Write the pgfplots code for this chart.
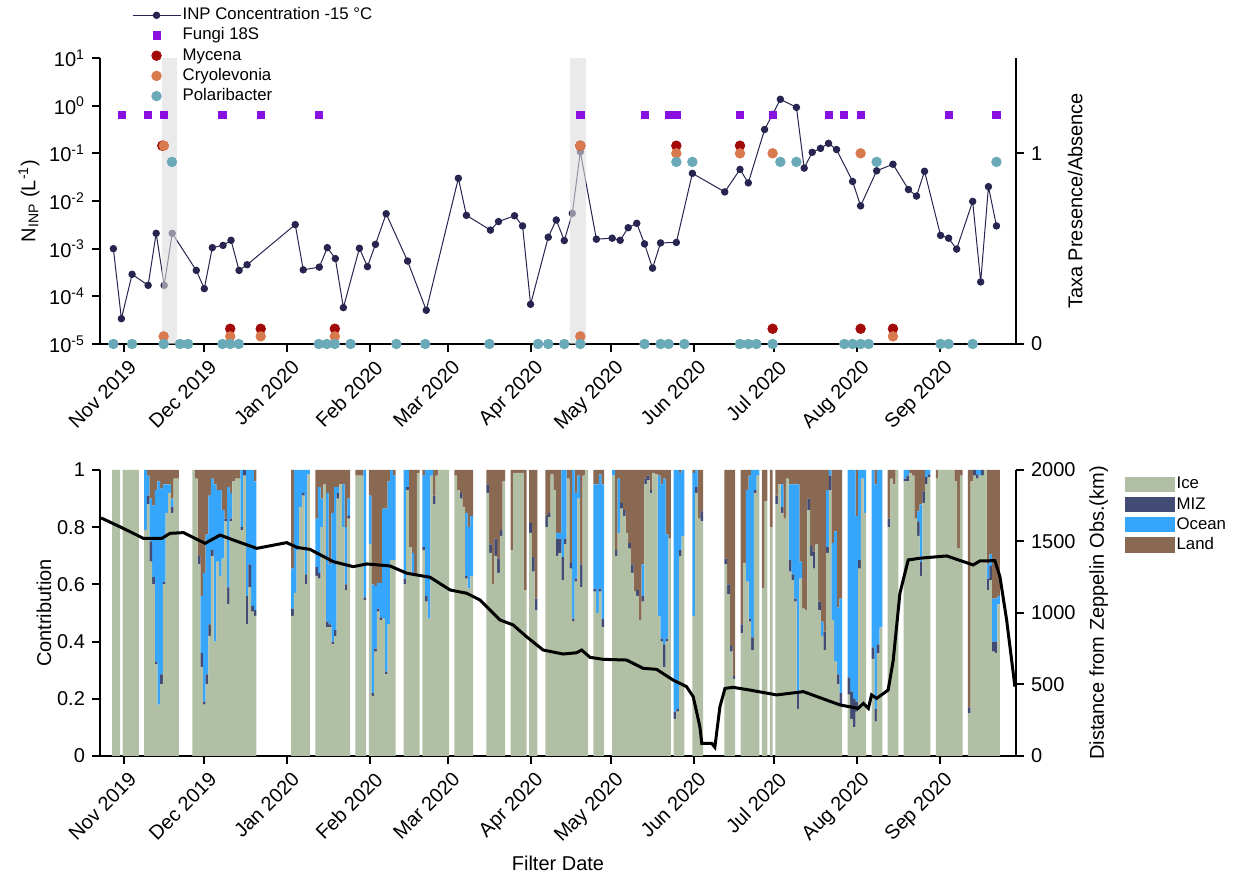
\documentclass[border=0pt]{standalone}
\usepackage{fontspec}
\setmainfont{Liberation Sans}
\usepackage{pgfplots}
\pgfplotsset{compat=1.18}
\usepackage{pgfplotstable}

\definecolor{inp}{HTML}{27244F}
\definecolor{fungi}{HTML}{8A10E0}
\definecolor{mycena}{HTML}{A20A0A}
\definecolor{cryo}{HTML}{D9794E}
\definecolor{polar}{HTML}{6AA9B7}
\definecolor{iceC}{HTML}{B1C0A5}
\definecolor{mizC}{HTML}{414B73}
\definecolor{oceC}{HTML}{35A6FB}
\definecolor{landC}{HTML}{8A6952}
\definecolor{band}{HTML}{DCDCDC}

\newcommand\ftick{\fontsize{10}{12}\selectfont}
\newcommand\flab{\fontsize{10}{12}\selectfont}
\newcommand\fleg{\fontsize{8.4}{10}\selectfont}

% INP concentration at -15 C, day 0 = 1 Nov 2019
\pgfplotstableread{
d v
-4 1.0e-3
-1 3.4e-5
3 2.9e-4
9 1.7e-4
12 2.1e-3
15 1.7e-4
18 2.1e-3
27 3.5e-4
30 1.45e-4
33 1.05e-3
37 1.17e-3
40 1.5e-3
43 3.5e-4
46 4.6e-4
64 3.2e-3
67 3.6e-4
73 4.1e-4
76 1.05e-3
79 6.2e-4
82 5.8e-5
88 1.02e-3
91 4.2e-4
94 1.23e-3
98 5.4e-3
106 5.5e-4
113 5.1e-5
125 3.0e-2
128 5.0e-3
137 2.45e-3
140 3.7e-3
146 4.9e-3
149 3.0e-3
152 6.8e-5
158.6 1.74e-3
161.6 4.0e-3
164.6 1.48e-3
167.6 5.5e-3
170.6 0.108
176.6 1.58e-3
182.5 1.66e-3
185.5 1.5e-3
188.5 2.75e-3
191.7 3.4e-3
194.6 1.26e-3
197.6 3.9e-4
200.6 1.32e-3
206.5 1.35e-3
212.5 3.8e-2
224.6 1.55e-2
230.3 4.6e-2
233.4 2.4e-2
239.5 0.316
242.5 0.66
245.4 1.36
251.4 0.92
254.3 4.9e-2
257.3 0.105
260.4 0.127
263.4 0.162
266.4 0.12
272.4 2.57e-2
275.4 7.9e-3
281.4 4.3e-2
287.5 5.9e-2
293.3 1.74e-2
296.3 1.27e-2
299.3 4.2e-2
305.3 1.9e-3
308.3 1.66e-3
311.3 9.8e-4
317.3 9.8e-3
320.3 2.0e-4
323.2 2.0e-2
326.2 3.0e-3
}\inptab

% air mass contribution per day
\pgfplotstableread{
d ice miz oce land
-4 1 0 0 0
-3 1 0 0 0
-2 1 0 0 0
0 1 0 0 0
1 1 0 0 0
2 1 0 0 0
3 1 0 0 0
4 1 0 0 0
5 1 0 0 0
8 0.79 0 0.21 0
9 0.88 0.03 0.07 0.02
10 0.68 0.07 0.15 0.10
11 0.60 0.025 0.25 0.125
12 0.32 0.01 0.60 0.07
13 0.18 0 0.78 0.04
14 0.25 0.035 0.65 0.065
15 0.60 0.01 0.34 0.05
16 0.85 0 0.10 0.05
17 0.92 0 0.03 0.05
18 0.85 0.02 0.03 0.10
19 0.97 0 0 0.03
20 0.97 0 0 0.03
26 1 0 0 0
27 0.97 0 0 0.03
28 0.67 0.03 0 0.30
29 0.31 0.05 0.20 0.44
30 0.18 0.01 0.45 0.36
31 0.25 0.035 0.49 0.225
32 0.42 0.04 0.45 0.09
33 0.70 0.02 0.25 0.03
34 0.40 0 0.55 0.05
35 0.68 0 0.25 0.07
36 0.63 0 0.30 0.07
37 0.69 0 0.17 0.14
38 0.82 0.01 0 0.17
39 0.53 0.06 0.35 0.06
40 0.82 0.01 0.09 0.08
41 0.96 0 0 0.04
42 0.97 0 0 0.03
43 0.97 0 0 0.03
44 0.79 0.01 0.20 0
45 0.98 0.02 0 0
46 0.46 0.10 0.44 0
47 0.59 0.08 0.33 0
48 0.505 0.02 0.475 0
49 0.49 0.02 0.45 0.04
63 0.49 0.025 0.14 0.345
64 0.57 0 0.43 0
65 0.72 0 0.28 0
66 0.87 0 0.13 0
67 0.91 0.01 0.08 0
68 0.60 0.035 0.365 0
69 0.985 0 0.015 0
72 0.63 0.03 0.17 0.17
73 0.62 0.02 0.30 0.06
74 0.80 0 0.10 0.10
75 0.95 0 0 0.05
76 0.45 0.02 0.45 0.08
77 0.45 0.01 0.21 0.33
78 0.39 0.01 0.45 0.15
79 0.42 0.02 0.50 0.06
80 0.90 0.02 0.02 0.06
81 0.95 0 0 0.05
82 0.80 0 0.15 0.05
83 0.58 0.02 0.20 0.20
84 0.83 0.01 0.06 0.10
87 0.98 0 0 0.02
88 0.98 0 0 0.02
89 0.98 0 0 0.02
90 0.545 0.01 0.445 0
92 0.74 0 0.17 0.09
93 0.21 0.01 0.38 0.40
94 0.365 0.01 0.22 0.405
95 0.505 0.01 0.09 0.395
96 0.475 0.01 0.12 0.395
97 0.48 0 0.385 0.135
98 0.285 0.01 0.57 0.135
99 0.46 0 0.50 0.04
100 0.685 0 0.315 0
101 0.685 0 0.295 0.02
105 0.60 0.02 0.38 0
106 0.93 0.01 0.06 0
107 0.73 0 0 0.27
108 0.63 0 0.08 0.29
109 0.63 0 0 0.37
110 0.99 0 0 0.01
112 0.72 0.01 0.25 0.02
113 0.54 0.02 0.44 0
114 0.48 0 0.52 0
115 0.98 0 0.02 0
116 0.88 0.03 0 0.09
117 0.98 0 0 0.02
118 1 0 0 0
119 1 0 0 0
120 1 0 0 0
121 1 0 0 0
124 0.98 0 0 0.02
125 0.93 0 0 0.07
126 0.90 0.02 0 0.08
127 0.87 0 0 0.13
128 0.62 0.01 0.22 0.15
129 0.585 0 0.215 0.20
130 0.63 0 0.21 0.16
136 0.92 0.03 0 0.05
137 0.71 0.03 0 0.26
138 0.60 0 0 0.40
139 0.70 0.06 0 0.24
140 0.64 0.05 0 0.31
141 0.77 0.02 0 0.21
142 0.96 0 0 0.04
145 0.72 0 0 0.28
146 0.99 0 0 0.01
147 0.99 0 0 0.01
148 0.99 0 0 0.01
149 0.99 0 0 0.01
150 0.58 0 0 0.42
152 0.78 0.035 0 0.185
153 0.645 0.05 0 0.305
154 0.51 0.04 0 0.45
158 0.80 0.04 0 0.16
159 0.835 0.015 0 0.15
160 0.985 0 0 0.015
161 0.93 0 0 0.07
162 0.70 0.06 0.02 0.22
163 0.71 0.05 0.02 0.22
164 0.615 0.08 0.305 0
165 0.74 0.02 0.24 0
166 0.97 0 0 0.03
167 0.655 0.02 0 0.325
168 0.47 0.01 0.52 0
169 0.61 0.01 0.30 0.08
170 0.90 0 0.08 0.02
171 0.59 0.08 0 0.33
172 0.98 0 0 0.02
173 1 0 0 0
176 0.575 0.01 0.365 0.05
177 0.50 0 0.45 0.05
178 0.575 0.01 0.40 0.015
179 0.45 0.03 0.47 0.05
183 0.98 0 0.02 0
184 0.70 0.02 0 0.28
185 0.78 0 0.19 0.03
186 0.865 0.02 0 0.115
187 0.84 0.02 0 0.14
188 0.78 0 0 0.22
189 0.725 0.02 0 0.255
190 0.64 0.03 0 0.33
191 0.575 0 0 0.425
192 0.56 0.02 0 0.42
193 0.475 0 0 0.525
194 0.54 0.02 0.11 0.33
195 0.95 0.02 0 0.03
196 0.965 0.015 0 0.02
197 0.92 0.01 0 0.07
198 0.99 0 0 0.01
199 0.985 0 0 0.015
200 0.49 0 0.49 0.02
201 0.40 0.01 0.54 0.05
202 0.31 0.08 0.58 0.03
203 0.40 0.01 0.365 0.225
204 0.76 0 0 0.24
206 0.13 0.025 0.845 0
207 0.155 0.01 0.835 0
208 0.70 0.02 0.27 0.01
209 0.77 0 0.23 0
213 0.49 0 0.50 0.01
214 0.92 0.02 0.06 0
215 0.83 0 0 0.17
216 0.82 0.035 0 0.145
225 0.67 0.02 0 0.31
226 0.565 0.035 0 0.40
227 0.365 0.02 0 0.615
228 0.27 0.01 0 0.72
231 0.43 0.03 0 0.54
232 0.675 0 0 0.325
233 0.61 0 0.32 0.07
234 0.47 0.01 0.50 0.02
235 0.37 0.045 0.585 0
236 0.92 0.01 0.07 0
237 0.98 0 0.02 0
239 0.585 0 0 0.415
240 0.89 0 0 0.11
242 0.80 0 0 0.20
244 0.88 0.03 0 0.09
245 0.95 0 0 0.05
246 0.85 0.02 0.08 0.05
247 0.83 0 0 0.17
248 0.97 0 0 0.03
249 0.645 0.04 0.265 0.05
250 0.615 0.02 0.315 0.05
251 0.54 0.01 0.40 0.05
252 0.165 0.06 0.725 0.05
253 0.62 0 0.06 0.32
254 0.515 0 0 0.485
255 0.51 0 0 0.49
256 0.86 0.04 0 0.10
257 0.70 0.035 0 0.265
258 0.655 0.06 0 0.285
259 0.74 0 0 0.26
260 0.51 0.03 0 0.46
261 0.42 0 0.05 0.53
262 0.37 0.065 0 0.565
263 0.71 0.02 0.20 0.07
264 0.93 0.05 0.02 0
265 0.475 0 0.27 0.255
266 0.33 0 0.455 0.215
267 0.25 0.035 0.235 0.48
268 0.175 0.045 0.33 0.45
271 0.215 0.06 0.725 0
272 0.13 0.095 0.775 0
273 0.10 0.10 0.80 0
274 0.155 0.035 0.65 0.16
275 0.655 0.03 0.315 0
276 0.97 0 0.03 0
277 0.85 0 0.15 0
280 0.34 0.04 0.62 0
281 0.12 0.045 0.785 0.05
282 0.36 0.03 0.61 0
283 0.45 0 0.55 0
286 0.80 0.03 0 0.17
287 0.97 0 0 0.03
288 0.95 0 0 0.05
289 1 0 0 0
292 0.96 0.01 0.03 0
293 0.96 0.02 0.02 0
294 0.99 0 0 0.01
295 0.98 0 0 0.02
296 0.83 0 0 0.17
297 0.77 0.05 0.035 0.145
298 0.63 0.05 0.20 0.12
299 0.885 0.04 0 0.075
300 0.95 0.025 0.025 0
301 0.975 0.01 0.015 0
304 0.97 0 0 0.03
305 1 0 0 0
306 1 0 0 0
307 1 0 0 0
308 1 0 0 0
309 1 0 0 0
310 1 0 0 0
311 0.96 0 0 0.04
312 0.725 0 0 0.275
313 0.98 0 0 0.02
316 0.15 0.02 0 0.83
317 0.96 0 0 0.04
318 0.98 0.02 0 0
319 0.97 0.015 0.015 0
320 0.98 0 0.02 0
321 0.98 0.02 0 0
322 1 0 0 0
323 0.58 0.04 0.05 0.33
324 0.615 0.05 0.04 0.295
325 0.365 0.035 0.15 0.45
326 0.36 0.04 0.15 0.45
327 0.53 0 0.03 0.44
}\bartab

% distance from Zeppelin observatory (km)
\pgfplotstableread{
d km
-8.6 1665
-0.3 1592
7.2 1522
14.1 1522
17.2 1557
22.2 1562
30.3 1487
35.9 1545
40.9 1510
49.6 1452
60.8 1492
64.6 1459
69.5 1445
78.2 1359
85.7 1324
90.7 1343
99.4 1329
105.7 1278
114.4 1250
121.9 1161
128.1 1138
133.1 1091
140.6 951
145.5 916
150.5 834
156.7 741
164.2 713
169.2 722
171.1 741
174.2 690
179.2 676
187.9 671
194.1 613
199.1 606
205.3 531
210.3 485
212.8 415
215.3 205
216.0 89
219.7 89
220.9 61
222.8 345
224.7 473
227.8 480
234.0 461
244.0 427
254.0 450
267.7 357
274.5 333
276.4 368
278.3 333
279.5 427
281.4 403
285.7 461
287.6 671
290.1 1138
293.2 1371
297.6 1383
307.6 1399
317.5 1336
320.0 1364
325.6 1366
327.5 1254
330.0 951
333.1 485
}\disttab

\pgfplotsset{
  base/.style={
    scale only axis, width=458pt, height=143pt,
    xmin=-9, xmax=333.5,
    tick align=outside, major tick length=4pt,
    axis line style={line width=1.1pt},
    tick style={line width=1pt, black},
    tick label style={font=\ftick},
    label style={font=\flab},
    yminorticks=false, xminorticks=false,
  },
  months/.style={
    xtick={0,30,61,92,121,152,182,213,243,274,305},
    xticklabels={Nov 2019,Dec 2019,Jan 2020,Feb 2020,Mar 2020,Apr 2020,May 2020,Jun 2020,Jul 2020,Aug 2020,Sep 2020},
    xticklabel style={rotate=45, anchor=north east, inner sep=1pt, yshift=-2.5pt},
  },
  overlay/.style={axis x line=none, xtick=\empty},
}

\begin{document}
\begin{tikzpicture}
\useasboundingbox (-50pt,-61pt) rectangle (569.5pt,378pt);

% ---- top panel: INP concentration ----
\begin{axis}[base, months, at={(0pt,206pt)}, anchor=south west,
  axis x line*=bottom, axis y line*=left,
  ymode=log, ymin=1e-5, ymax=10,
  ytick={1e-5,1e-4,1e-3,1e-2,1e-1,1,10},
  yticklabels={10\textsuperscript{-5},10\textsuperscript{-4},10\textsuperscript{-3},10\textsuperscript{-2},10\textsuperscript{-1},10\textsuperscript{0},10\textsuperscript{1}},
  ylabel={N\textsubscript{INP} (L\textsuperscript{-1})}, ylabel shift=-2pt,
  clip=false]
  \addplot[color=inp, line width=0.5pt, mark=*, mark size=1.6pt, mark options={fill=inp, solid}]
    table[x=d, y=v] {\inptab};
\end{axis}

% ---- top panel: taxa presence / absence ----
\begin{axis}[base, overlay, at={(0pt,206pt)}, anchor=south west,
  axis y line*=right,
  ymin=0, ymax=1.5, ytick={0,1}, yticklabels={0,1},
  ylabel={Taxa Presence/Absence}, ylabel shift=6pt,
  clip=false,
  legend image code/.code={\draw[mark repeat=2, mark phase=2, #1] plot coordinates {(0pt,0pt) (12pt,0pt) (24pt,0pt)};},
  legend style={at={(0.028,1.2)}, anchor=north west, draw=none, fill=none,
    font=\fleg, legend cell align=left,
    nodes={inner sep=0.8pt, text height=6.5pt, text depth=2pt}}]
  \addlegendimage{color=inp, line width=0.5pt, mark=*, mark size=1.6pt, mark options={fill=inp}}
  \addlegendentry{INP Concentration -15 °C}
  \addplot[only marks, mark=square*, mark size=1.8pt, color=fungi] coordinates {
    (-0.9,1.2) (9,1.2) (14.8,1.2) (36.8,1.2) (51.1,1.2) (72.8,1.2) (170.6,1.2)
    (194.6,1.2) (203.6,1.2) (206.5,1.2) (230.3,1.2) (242.5,1.2) (263.4,1.2)
    (269.3,1.2) (275.4,1.2) (308.3,1.2) (326.2,1.2)};
  \addlegendentry{Fungi 18S}
  \addplot[only marks, mark=*, mark size=2.4pt, color=mycena] coordinates {
    (14.3,1.04) (170.6,1.04) (206.5,1.04) (230.3,1.04)
    (39.7,0.08) (51.1,0.08) (78.8,0.08) (242.5,0.08) (275.4,0.08) (287.5,0.08)};
  \addlegendentry{Mycena}
  \addplot[only marks, mark=*, mark size=2.4pt, color=cryo] coordinates {
    (14.9,1.04) (170.6,1.04) (206.5,1.0) (230.3,1.0) (242.5,1.0) (275.4,1.0)
    (14.8,0.04) (39.7,0.04) (51.1,0.04) (78.8,0.04) (170.6,0.04) (287.5,0.04)};
  \addlegendentry{Cryolevonia}
  \addplot[only marks, mark=*, mark size=2.4pt, color=polar] coordinates {
    (17.9,0.955) (206.5,0.955) (212.5,0.955) (245.4,0.955) (251.4,0.955)
    (281.4,0.955) (326.2,0.955)
    (-4,0) (3,0) (14.8,0) (20.9,0) (23.9,0) (36.8,0) (39.7,0) (42.9,0)
    (72.8,0) (75.8,0) (78.8,0) (84.7,0) (101.8,0) (112.6,0) (136.6,0)
    (154.8,0) (158.6,0) (164.6,0) (170.6,0) (194.6,0) (200.6,0) (203.6,0)
    (209.5,0) (230.3,0) (233.4,0) (236.4,0) (242.5,0) (269.3,0) (272.4,0)
    (275.4,0) (278.4,0) (305.3,0) (308.3,0) (317.3,0)};
  \addlegendentry{Polaribacter}
  % shaded sampling periods
  \fill[band, opacity=0.6] (axis cs:14.2,0) rectangle (axis cs:19.7,1.5);
  \fill[band, opacity=0.6] (axis cs:166.7,0) rectangle (axis cs:172.6,1.5);
\end{axis}

% ---- bottom panel: contributions ----
\begin{axis}[base, months, at={(0pt,0pt)}, anchor=south west,
  axis x line*=bottom, axis y line*=left,
  ymin=0, ymax=1,
  ytick={0,0.2,0.4,0.6,0.8,1}, yticklabels={0,0.2,0.4,0.6,0.8,1},
  ylabel={Contribution}, ylabel shift=-4pt, xlabel={Filter Date},
  ybar stacked, bar width=1]
  \addplot[fill=iceC, draw=none] table[x=d, y=ice] {\bartab};
  \addplot[fill=mizC, draw=none] table[x=d, y=miz] {\bartab};
  \addplot[fill=oceC, draw=none] table[x=d, y=oce] {\bartab};
  \addplot[fill=landC, draw=none] table[x=d, y=land] {\bartab};
\end{axis}

% ---- bottom panel: distance ----
\begin{axis}[base, overlay, at={(0pt,0pt)}, anchor=south west,
  axis y line*=right,
  ymin=0, ymax=2000,
  ytick={0,500,1000,1500,2000}, yticklabels={0,500,1000,1500,2000},
  ylabel={Distance from Zeppelin Obs.(km)},
  clip=false,
  legend image code/.code={\fill[#1] (0pt,-3.8pt) rectangle (25pt,3.8pt);},
  legend style={at={(1.112,1.0)}, anchor=north west, draw=none, fill=none,
    font=\fleg, legend cell align=left,
    nodes={inner sep=0.8pt, text height=6.5pt, text depth=2pt}}]
  \addplot[black, line width=1.5pt, forget plot] table[x=d, y=km] {\disttab};
  \addlegendimage{fill=iceC, draw=none}
  \addlegendentry{Ice}
  \addlegendimage{fill=mizC, draw=none}
  \addlegendentry{MIZ}
  \addlegendimage{fill=oceC, draw=none}
  \addlegendentry{Ocean}
  \addlegendimage{fill=landC, draw=none}
  \addlegendentry{Land}
\end{axis}
\end{tikzpicture}
\end{document}
